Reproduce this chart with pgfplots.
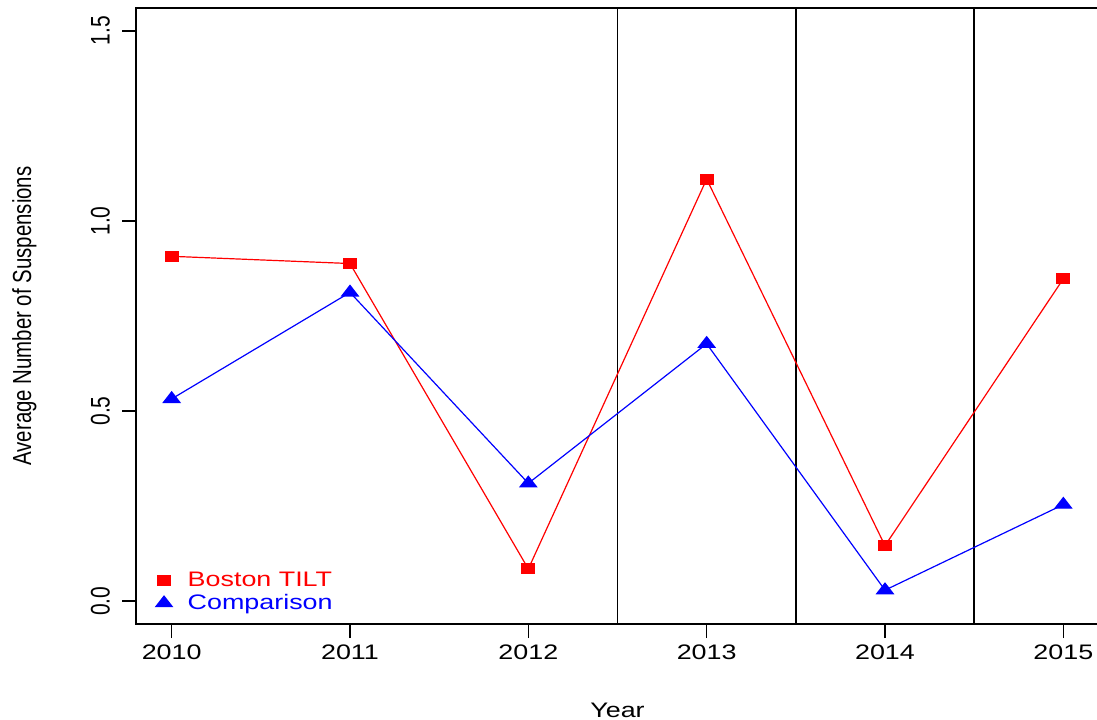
\documentclass[border=0pt]{standalone}
\usepackage{fontspec}
\setmainfont{Liberation Sans}
\usepackage{graphicx}
\usepackage{pgfplots}
\pgfplotsset{compat=1.18}
% text is drawn slightly widened, as in the original graphics device
\newcommand\hs[1]{\scalebox{1.28}[1]{#1}}
\newcommand\vs[1]{\scalebox{1}[1.28]{#1}}

\pgfplotstableread{
year  tilt   comp
2010  0.907  0.532
2011  0.888  0.812
2012  0.085  0.310
2013  1.110  0.677
2014  0.146  0.029
2015  0.848  0.254
}\suspensions

\begin{document}
\begin{tikzpicture}
\begin{axis}[
  scale only axis,
  width=481.5pt, height=308pt,
  xmin=2009.8, xmax=2015.2,
  ymin=-0.06, ymax=1.56,
  font=\fontsize{10.5}{12}\selectfont,
  axis line style={black, line width=0.7pt},
  tick align=outside,
  major tick length=7pt,
  tick style={black, line width=0.7pt},
  xtick pos=bottom, ytick pos=left,
  xtick={2010,2011,2012,2013,2014,2015},
  xticklabels={\hs{2010},\hs{2011},\hs{2012},\hs{2013},\hs{2014},\hs{2015}},
  ytick={0,0.5,1,1.5},
  yticklabels={\vs{0.0},\vs{0.5},\vs{1.0},\vs{1.5}},
  yticklabel style={rotate=90, anchor=south, yshift=2.5pt},
  xlabel={\hs{Year}},
  ylabel={\vs{\fontsize{10.2}{12}\selectfont Average Number of Suspensions}},
  xlabel style={at={(axis description cs:0.5,-0.1396)}, anchor=center},
  ylabel style={at={(axis description cs:-0.1160,0.5)}, anchor=center},
  legend cell align=left,
  legend style={at={(axis description cs:0.0202,0.0881)}, anchor=north west,
    draw=none, fill=none, inner sep=0pt, column sep=7.75pt, row sep=1.5pt,
    nodes={inner sep=0pt, text height=8pt, text depth=2pt},
    font=\fontsize{10.5}{12}\selectfont},
  legend image code/.code={\draw[#1, /tikz/only marks] plot coordinates {(0pt,0pt)};},
]
% period boundaries
\addplot[black, line width=0.9pt, forget plot] coordinates {(2012.5,-0.1) (2012.5,1.6)};
\addplot[black, line width=0.9pt, forget plot] coordinates {(2013.5,-0.1) (2013.5,1.6)};
\addplot[black, line width=0.9pt, forget plot] coordinates {(2014.5,-0.1) (2014.5,1.6)};

\addplot[red, line width=0.6pt, mark=square*, mark size=2.5pt,
  mark options={solid, fill=red, xscale=1.3}] table[x=year, y=tilt] {\suspensions};
\addlegendentry{\textcolor{red}{\hs{Boston TILT}}}

\addplot[blue, line width=0.6pt, mark=triangle*, mark size=3.5pt,
  mark options={solid, fill=blue, xscale=1.35}] table[x=year, y=comp] {\suspensions};
\addlegendentry{\textcolor{blue}{\hs{Comparison}}}
\end{axis}
\pgfresetboundingbox
\useasboundingbox (-68pt,-47.5pt) rectangle (480.5pt,312pt);
\end{tikzpicture}
\end{document}
